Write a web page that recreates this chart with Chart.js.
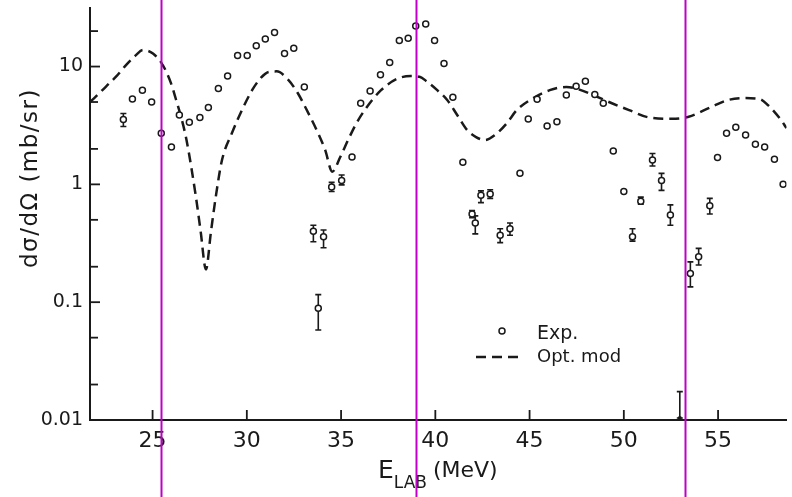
<!DOCTYPE html>
<html lang="en">
<head>
    <meta charset="UTF-8">
    <title>Excitation function</title>
    <script src="https://cdn.jsdelivr.net/npm/chart.js"></script>
    <style>
        body { margin: 0; background: #fff; }
        .container { width: 792px; height: 497px; position: relative; }
    </style>
</head>
<body>
    <div class="container">
        <canvas id="xsChart"></canvas>
    </div>

    <script>
        // Experimental points (E_LAB in MeV, dsigma/dOmega in mb/sr)
        const expX = [23.45, 23.93, 24.46, 24.95, 25.46, 26.0, 26.42, 26.95, 27.51, 27.96,
                      28.49, 28.98, 29.51, 30.02, 30.5, 30.98, 31.47, 32.0, 32.49, 33.05,
                      33.53, 33.79, 34.07, 34.5, 35.03, 35.58, 36.04, 36.54, 37.09, 37.58,
                      38.09, 38.56, 38.96, 39.49, 39.96, 40.46, 40.93, 41.46, 41.95, 42.12,
                      42.42, 42.91, 43.44, 43.96, 44.49, 44.93, 45.4, 45.93, 46.45, 46.95,
                      47.47, 47.96, 48.46, 48.91, 49.44, 50.0, 50.46, 50.9, 51.52, 52.0,
                      52.47, 53.53, 53.97, 54.56, 54.97, 55.45, 55.94, 56.46, 56.98, 57.47,
                      57.99, 58.45];
        const expY = [3.55, 5.3, 6.3, 5.0, 2.71, 2.08, 3.88, 3.36, 3.7, 4.5,
                      6.5, 8.3, 12.4, 12.4, 15.0, 17.1, 19.5, 12.9, 14.3, 6.7,
                      0.40, 0.089, 0.36, 0.95, 1.08, 1.71, 4.87, 6.2, 8.5, 10.8,
                      16.6, 17.4, 22.1, 23.0, 16.6, 10.6, 5.5, 1.54, 0.56, 0.47,
                      0.81, 0.83, 0.37, 0.42, 1.24, 3.58, 5.27, 3.13, 3.4, 5.73,
                      6.8, 7.5, 5.8, 4.87, 1.92, 0.87, 0.36, 0.72, 1.61, 1.08,
                      0.55, 0.175, 0.243, 0.66, 1.69, 2.71, 3.05, 2.62, 2.19, 2.08,
                      1.63, 1.0];
        // error bars (null = none drawn)
        const expLo = [3.1, null, null, null, null, null, null, null, null, null,
                       null, null, null, null, null, null, null, null, null, null,
                       0.326, 0.058, 0.29, 0.87, 0.99, null, null, null, null, null,
                       null, null, null, null, null, null, null, null, 0.52, 0.38,
                       0.70, 0.76, 0.32, 0.37, null, null, null, null, null, null,
                       null, null, null, null, null, null, 0.33, 0.68, 1.43, 0.89,
                       0.45, 0.135, 0.207, 0.56, null, null, null, null, null, null,
                       null, null];
        const expHi = [4.0, null, null, null, null, null, null, null, null, null,
                       null, null, null, null, null, null, null, null, null, null,
                       0.45, 0.116, 0.41, 1.04, 1.2, null, null, null, null, null,
                       null, null, null, null, null, null, null, null, 0.60, 0.54,
                       0.88, 0.90, 0.42, 0.47, null, null, null, null, null, null,
                       null, null, null, null, null, null, 0.42, 0.78, 1.83, 1.24,
                       0.67, 0.22, 0.286, 0.76, null, null, null, null, null, null,
                       null, null];

        // the lone point sitting on the axis near 53 MeV
        const limX = [52.97];
        const limY = [0.0104];
        const limHi = [0.0174];

        // Optical model curve
        const modelX = [21.68, 22.01, 22.54, 23.06, 23.59, 24.12, 24.49, 25.02, 25.54, 25.98,
                        26.25, 26.51, 26.8, 27.3, 27.55, 27.83, 28.1, 28.35, 28.68, 29.2,
                        29.74, 30.28, 30.74, 31.16, 31.58, 32.2, 32.7, 33.09, 33.79, 34.16,
                        34.53, 34.95, 35.37, 35.79, 36.25, 37.12, 38.0, 38.7, 39.16, 39.58,
                        40.1, 40.63, 41.16, 41.68, 42.16, 42.65, 43.16, 43.79, 44.32, 45.02,
                        46.07, 46.95, 47.47, 48.42, 49.21, 50.28, 51.33, 52.56, 53.44, 54.67,
                        55.53, 56.42, 57.21, 57.65, 58.35, 58.63];
        const modelY = [5.0, 5.6, 6.8, 8.2, 10.3, 12.5, 13.8, 12.9, 10.3, 7.2,
                        5.2, 3.75, 2.38, 0.78, 0.40, 0.19, 0.40, 0.78, 1.6, 2.7,
                        4.27, 6.3, 8.0, 9.0, 9.1, 7.7, 5.96, 4.56, 2.7, 1.95,
                        1.28, 1.7, 2.38, 3.25, 4.27, 6.3, 7.9, 8.3, 8.2, 7.4,
                        6.3, 5.2, 3.88, 2.9, 2.52, 2.38, 2.62, 3.3, 4.27, 5.2,
                        6.3, 6.7, 6.5, 5.7, 5.0, 4.27, 3.7, 3.6, 3.75, 4.56,
                        5.2, 5.4, 5.3, 4.7, 3.5, 3.0];

        // axes
        const xTicks = [25, 30, 35, 40, 45, 50, 55];
        const yTicks = [0.01, 0.02, 0.05, 0.1, 0.2, 0.5, 1, 2, 5, 10, 20];
        const yLabels = ['0.01', '0.1', '1', '10'];
        // magenta marker lines laid over the scan
        const markLines = [25.47, 38.95, 53.26];

        const ink = '#1a1a1a';
        const font = "'DejaVu Sans', sans-serif";

        function yLabel(v) {
            const hit = yLabels.find(s => Math.abs(parseFloat(s) - v) < v * 1e-6);
            return hit || '';
        }

        const decor = {
            id: 'decor',
            beforeDatasetsDraw(chart) {
                const { ctx, chartArea: a, scales: { x, y } } = chart;
                ctx.save();
                ctx.beginPath();
                ctx.rect(a.left, a.top, a.right - a.left, a.bottom - a.top + 2);
                ctx.clip();
                ctx.strokeStyle = ink;
                ctx.lineWidth = 1.6;
                const bar = (xv, lo, hi) => {
                    const px = x.getPixelForValue(xv);
                    const p1 = y.getPixelForValue(lo), p2 = y.getPixelForValue(hi);
                    ctx.beginPath();
                    ctx.moveTo(px, p1); ctx.lineTo(px, p2);
                    ctx.moveTo(px - 3, p1); ctx.lineTo(px + 3, p1);
                    ctx.moveTo(px - 3, p2); ctx.lineTo(px + 3, p2);
                    ctx.stroke();
                };
                expX.forEach((v, i) => { if (expLo[i] != null) bar(v, expLo[i], expHi[i]); });
                limX.forEach((v, i) => bar(v, limY[i], limHi[i]));
                ctx.restore();
            },
            afterDraw(chart) {
                const { ctx, chartArea: a, scales: { x, y } } = chart;
                ctx.save();
                ctx.strokeStyle = ink;
                ctx.lineWidth = 1.8;
                // inward tick marks
                x.ticks.forEach(t => {
                    const px = x.getPixelForValue(t.value);
                    ctx.beginPath(); ctx.moveTo(px, a.bottom); ctx.lineTo(px, a.bottom - 10); ctx.stroke();
                });
                y.ticks.forEach(t => {
                    const py = y.getPixelForValue(t.value);
                    const len = yLabel(t.value) ? 10 : 8;
                    ctx.beginPath(); ctx.moveTo(a.left, py); ctx.lineTo(a.left + len, py); ctx.stroke();
                });

                // legend
                ctx.fillStyle = ink;
                ctx.lineWidth = 1.5;
                ctx.beginPath(); ctx.arc(502, 331, 3, 0, Math.PI * 2); ctx.stroke();
                ctx.lineWidth = 2.5;
                ctx.setLineDash([10, 6]);
                ctx.beginPath(); ctx.moveTo(476, 357); ctx.lineTo(524, 357); ctx.stroke();
                ctx.setLineDash([]);
                ctx.font = '19px ' + font;
                ctx.textBaseline = 'middle';
                ctx.textAlign = 'left';
                ctx.fillText('Exp.', 537, 334);
                ctx.font = '18px ' + font;
                ctx.fillText('Opt. mod', 537, 357);

                // axis titles
                ctx.textBaseline = 'alphabetic';
                let cx = 378;
                ctx.font = '25px ' + font;
                ctx.fillText('E', cx, 478);
                cx += ctx.measureText('E').width;
                ctx.font = '17px ' + font;
                ctx.fillText('LAB', cx, 488);
                cx += ctx.measureText('LAB').width + 6;
                ctx.font = '22px ' + font;
                ctx.fillText('(MeV)', cx, 477);

                ctx.save();
                ctx.translate(31, 178);
                ctx.rotate(-Math.PI / 2);
                ctx.textAlign = 'center';
                ctx.textBaseline = 'middle';
                ctx.font = '23px ' + font;
                ctx.letterSpacing = '1.5px';
                ctx.fillText('dσ/dΩ (mb/sr)', 0, 0);
                ctx.restore();

                // magenta lines
                ctx.strokeStyle = '#c000c8';
                ctx.lineWidth = 2;
                markLines.forEach(v => {
                    const px = Math.round(x.getPixelForValue(v)) + 0.5;
                    ctx.beginPath(); ctx.moveTo(px, 0); ctx.lineTo(px, chart.height); ctx.stroke();
                });
                ctx.restore();
            }
        };

        const ctx = document.getElementById('xsChart').getContext('2d');
        const chart = new Chart(ctx, {
            type: 'scatter',
            data: {
                datasets: [{
                    label: 'Exp.',
                    data: expX.map((v, i) => ({ x: v, y: expY[i] })),
                    pointStyle: 'circle',
                    pointRadius: 3,
                    borderWidth: 1.5,
                    borderColor: ink,
                    backgroundColor: '#fff',
                    order: 0
                }, {
                    label: 'limit',
                    data: limX.map((v, i) => ({ x: v, y: limY[i] })),
                    pointRadius: 2,
                    borderWidth: 0,
                    backgroundColor: ink,
                    order: 0
                }, {
                    label: 'Opt. mod',
                    data: modelX.map((v, i) => ({ x: v, y: modelY[i] })),
                    showLine: true,
                    pointRadius: 0,
                    borderColor: ink,
                    borderWidth: 2.5,
                    borderDash: [10, 6],
                    cubicInterpolationMode: 'monotone',
                    order: 1
                }]
            },
            options: {
                responsive: true,
                maintainAspectRatio: false,
                animation: false,
                layout: { padding: { top: 8, right: 0, left: 0, bottom: 0 } },
                plugins: {
                    legend: { display: false },
                    tooltip: { enabled: false }
                },
                scales: {
                    x: {
                        type: 'linear',
                        min: 21.68,
                        max: 58.63,
                        afterBuildTicks: s => { s.ticks = xTicks.map(v => ({ value: v })); },
                        afterFit: s => { s.height = 77; s.paddingLeft = 0; s.paddingRight = 0; },
                        border: { color: ink, width: 2 },
                        grid: { drawOnChartArea: false, drawTicks: false },
                        ticks: {
                            padding: 8,
                            autoSkip: false,
                            maxRotation: 0,
                            color: ink,
                            font: { family: font, size: 22 }
                        }
                    },
                    y: {
                        type: 'logarithmic',
                        min: 0.01,
                        max: 31.4,
                        afterBuildTicks: s => { s.ticks = yTicks.map(v => ({ value: v })); },
                        afterFit: s => { s.width = 90; s.paddingTop = 0; s.paddingBottom = 0; },
                        border: { color: ink, width: 2 },
                        grid: { drawOnChartArea: false, drawTicks: false },
                        ticks: {
                            padding: 7,
                            autoSkip: false,
                            color: ink,
                            font: { family: font, size: 19 },
                            callback: v => yLabel(v)
                        }
                    }
                }
            },
            plugins: [decor]
        });
    </script>
</body>
</html>
